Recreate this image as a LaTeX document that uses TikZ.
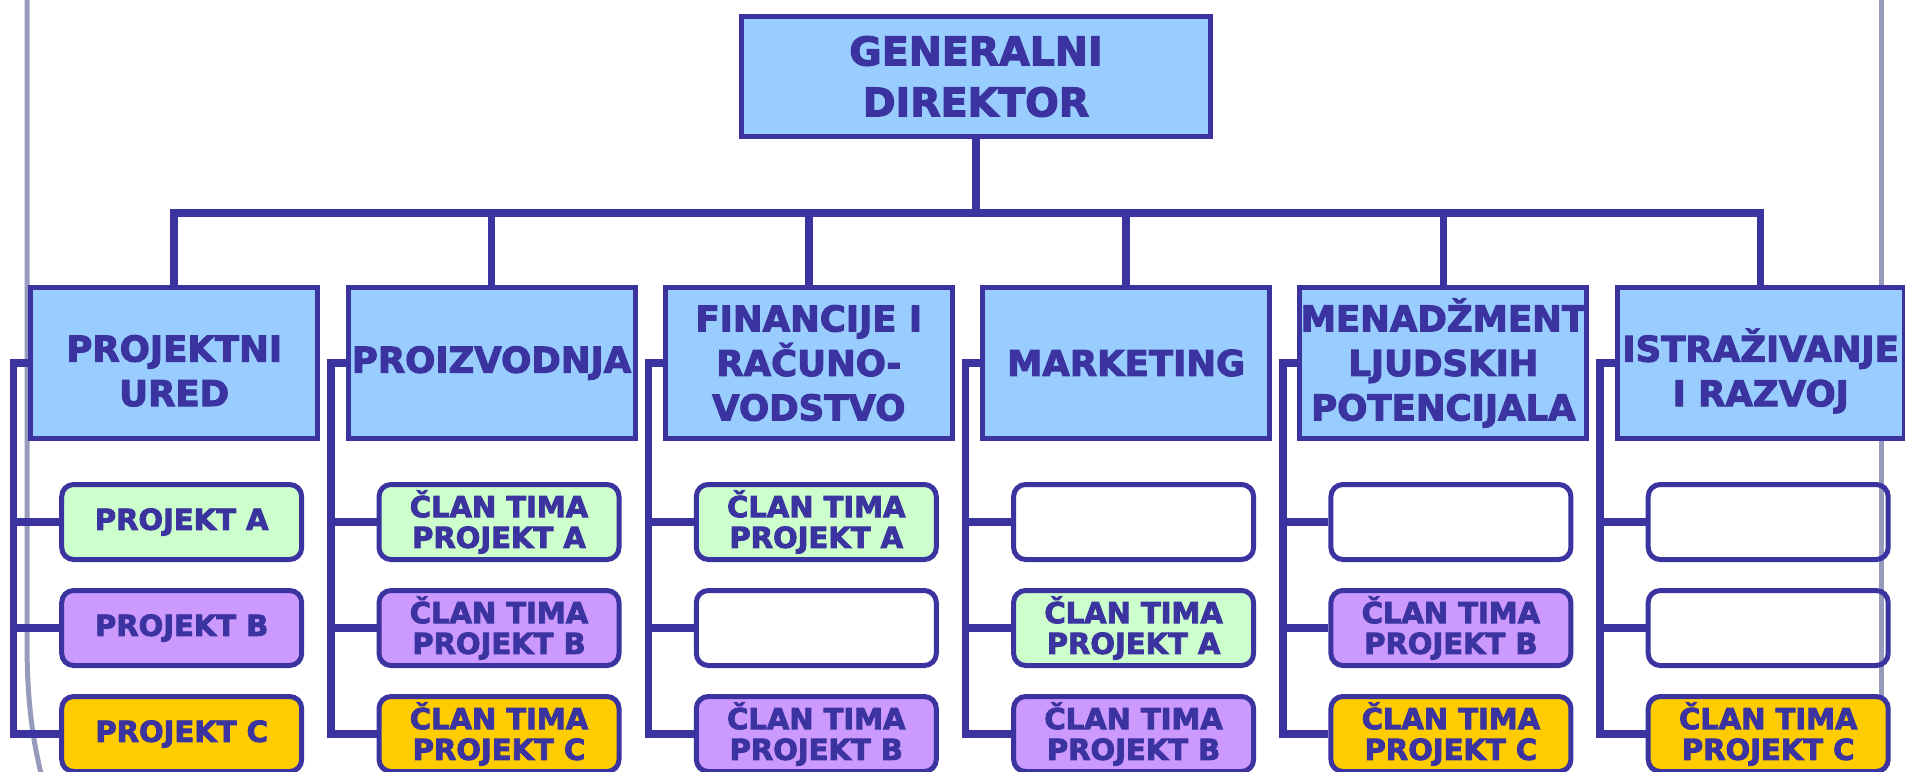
\documentclass[tikz,border=0pt]{standalone}
\usepackage{fontspec}
\newfontfamily\chartfont{DejaVu Sans}[BoldFeatures={FakeBold=3}]
\definecolor{chartline}{RGB}{58,51,160}
\definecolor{headblue}{RGB}{153,204,255}
\definecolor{projA}{RGB}{204,255,204}
\definecolor{projB}{RGB}{204,153,255}
\definecolor{projC}{RGB}{255,204,0}
\definecolor{slideframe}{RGB}{150,155,190}
\begin{document}
\begin{tikzpicture}[x=1pt,y=-1pt,line width=7.5pt,draw=chartline,
	every node/.style={text=chartline,inner sep=0pt,align=center},
	box/.style={draw=chartline,line width=5pt,fill=headblue},
	boss/.style={box,minimum width=469pt,minimum height=120pt,font=\chartfont\bfseries\fontsize{39.5}{51}\selectfont},
	dept/.style={box,minimum width=287pt,minimum height=151pt,font=\chartfont\bfseries\fontsize{35.5}{44.5}\selectfont},
	task/.style={draw=chartline,line width=5pt,rounded corners=12pt,minimum width=240pt,minimum height=75pt,font=\chartfont\bfseries\fontsize{29}{30.7}\selectfont}]
		\useasboundingbox(0,0)rectangle(1905,771);
		%slide frame behind the chart
		\draw[slideframe,line width=5pt](27,-10)--(27,640)..controls(27,700)and(32,740)..(44,785);
		\draw[slideframe,line width=5pt](1881,-10)--(1881,790);
		\coordinate(bus)at(0,213);
		\node[boss](gd)at(976,76.5){GENERALNI\\DIREKTOR};
		\node[dept](d1)at(174.2,363){\rule{0pt}{42pt}PROJEKTNI\\URED};
		\node[dept](d2)at(491.5,363){PROIZVODNJA};
		\node[dept](d3)at(808.8,363){FINANCIJE I\\RAČUNO-\\VODSTVO};
		\node[dept](d4)at(1126.1,363){MARKETING};
		\node[dept](d5)at(1443.4,363){MENADŽMENT\\LJUDSKIH\\POTENCIJALA};
		\node[dept](d6)at(1760.7,363){\rule{0pt}{49pt}ISTRAŽIVANJE\\I RAZVOJ};
		%projects: row a, b, c under each department
		\node[task,fill=projA](a1)at(181.7,522){PROJEKT A};
		\node[task,fill=projB](b1)at(181.7,628){PROJEKT B};
		\node[task,fill=projC](c1)at(181.7,734){PROJEKT C};
		\node[task,fill=projA](a2)at(499,522){ČLAN TIMA\\PROJEKT A};
		\node[task,fill=projB](b2)at(499,628){ČLAN TIMA\\PROJEKT B};
		\node[task,fill=projC](c2)at(499,734){ČLAN TIMA\\PROJEKT C};
		\node[task,fill=projA](a3)at(816.3,522){ČLAN TIMA\\PROJEKT A};
		\node[task](b3)at(816.3,628){};
		\node[task,fill=projB](c3)at(816.3,734){ČLAN TIMA\\PROJEKT B};
		\node[task](a4)at(1133.6,522){};
		\node[task,fill=projA](b4)at(1133.6,628){ČLAN TIMA\\PROJEKT A};
		\node[task,fill=projB](c4)at(1133.6,734){ČLAN TIMA\\PROJEKT B};
		\node[task](a5)at(1450.9,522){};
		\node[task,fill=projB](b5)at(1450.9,628){ČLAN TIMA\\PROJEKT B};
		\node[task,fill=projC](c5)at(1450.9,734){ČLAN TIMA\\PROJEKT C};
		\node[task](a6)at(1768.2,522){};
		\node[task](b6)at(1768.2,628){};
		\node[task,fill=projC](c6)at(1768.2,734){ČLAN TIMA\\PROJEKT C};
		%connectors
		\draw(gd.south)--(gd.south|-bus);
		\draw(d1.north)--(d1.north|-bus)--(d6.north|-bus)--(d6.north);
		\foreach\i in{2,...,5}{\draw(d\i.north)--(d\i.north|-bus);}
		\foreach\i in{1,...,6}{
			\path(d\i.west)++(-14.5,0)coordinate(k\i);
			\draw(d\i.west)--(k\i)|-(c\i.west);
			\draw(a\i.west)--(a\i.west-|k\i);
			\draw(b\i.west)--(b\i.west-|k\i);
		}
	\end{tikzpicture}
\end{document}
